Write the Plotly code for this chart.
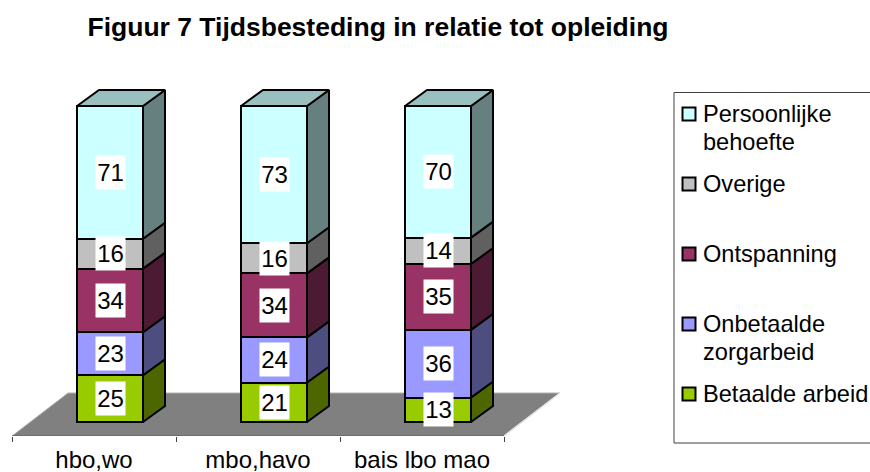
import plotly.graph_objects as go

# ---- data ----
categories = ["hbo,wo", "mbo,havo", "bais lbo mao"]
betaalde = [25, 21, 13]
onbetaalde = [23, 24, 36]
ontspanning = [34, 34, 35]
overige = [16, 16, 14]
persoonlijk = [71, 73, 70]
series_names = ["Betaalde arbeid", "Onbetaalde zorgarbeid", "Ontspanning", "Overige", "Persoonlijke behoefte"]
series_values = [betaalde, onbetaalde, ontspanning, overige, persoonlijk]
front_colors = ["#99CC00", "#9999FF", "#993366", "#C0C0C0", "#CCFFFF"]
side_colors = ["#4D6600", "#4D4D80", "#4D1A33", "#606060", "#668080"]
top_color = "#99BFBF"
legend_lines = [["Persoonlijke", "behoefte"], ["Overige"], ["Ontspanning"], ["Onbetaalde", "zorgarbeid"], ["Betaalde arbeid"]]
legend_colors = ["#CCFFFF", "#C0C0C0", "#993366", "#9999FF", "#99CC00"]
legend_y = [114, 184, 254, 324, 394]

# ---- layout geometry ----
W, H = 870, 472
L, R, T, B = 12, 560, 85, 436
Y0 = 422
PX_X = 164.0
PX_Y = 3.16
DX, DY = 22 / PX_X, 16 / PX_Y
BW = 66 / PX_X
OFF = 16 / PX_X
FLOOR_DX, FLOOR_DY = 56 / PX_X, 43 / PX_Y
xr = [-0.5, 2.5 + FLOOR_DX]
yr = [(Y0 - B) / PX_Y, (Y0 - T) / PX_Y]
FONT = "Liberation Sans, Arial, sans-serif"
LAB = 24
px = lambda v: (v - L) / (R - L)
py = lambda v: (B - v) / (B - T)

fig = go.Figure()
xs = list(range(len(categories)))
bar_x = [i + OFF for i in xs]

for name, vals, col in zip(series_names, series_values, front_colors):
    fig.add_bar(x=bar_x, y=vals, name=name, width=BW, marker=dict(color=col, line=dict(color="black", width=2)),
                showlegend=False, hoverinfo="skip")

totals = [sum(s[i] for s in series_values) for i in xs]
annots = []
for i in xs:
    base = 0.0
    c = bar_x[i]
    for s, vals in enumerate(series_values):
        h = vals[i] / totals[i] * 100
        xr_ = c + BW / 2
        fig.add_scatter(x=[xr_, xr_ + DX, xr_ + DX, xr_, xr_], y=[base, base + DY, base + h + DY, base + h, base],
                        mode="lines", fill="toself", fillcolor=side_colors[s], line=dict(color="black", width=2),
                        showlegend=False, hoverinfo="skip")
        annots.append(dict(x=c, y=base + h / 2, text=str(vals[i]), showarrow=False, bgcolor="white", width=27, height=31,
                           font=dict(family=FONT, size=LAB, color="black"), xref="x", yref="y"))
        base += h
    xl = c - BW / 2
    fig.add_scatter(x=[xl, xl + DX, xl + BW + DX, xl + BW, xl], y=[base, base + DY, base + DY, base, base],
                    mode="lines", fill="toself", fillcolor=top_color, line=dict(color="black", width=2),
                    showlegend=False, hoverinfo="skip")

# floor + its edges
shapes = [
    dict(type="path", xref="x", yref="y", layer="below", fillcolor="#808080", line=dict(color="#B0B0B0", width=1),
         path=f"M -0.5 {yr[0]} L 2.5 {yr[0]} L {2.5 + FLOOR_DX} {yr[0] + FLOOR_DY} L {-0.5 + FLOOR_DX} {yr[0] + FLOOR_DY} Z"),
    dict(type="line", xref="x", yref="y", layer="below", x0=2.5, x1=2.5 + FLOOR_DX, y0=yr[0], y1=yr[0] + FLOOR_DY,
         line=dict(color="#E8E8E8", width=1.5)),
    dict(type="line", xref="x", yref="y", layer="below", x0=-0.5, x1=2.5, y0=yr[0], y1=yr[0],
         line=dict(color="#404040", width=1)),
]

# legend box
shapes.append(dict(type="rect", xref="paper", yref="paper", x0=px(674), x1=px(885), y0=py(92.5), y1=py(443),
                   line=dict(color="#404040", width=1), fillcolor="rgba(0,0,0,0)"))
for lines, col, yc in zip(legend_lines, legend_colors, legend_y):
    shapes.append(dict(type="rect", xref="paper", yref="paper", x0=px(682.5), x1=px(695.5), y0=py(yc - 6.5), y1=py(yc + 6.5),
                       fillcolor=col, line=dict(color="black", width=2)))
    for k, t in enumerate(lines):
        annots.append(dict(xref="paper", yref="paper", x=px(700.5), y=py(yc + k * 28), text=t, showarrow=False, xanchor="left",
                           yanchor="middle", font=dict(family=FONT, size=23.6, color="black")))

fig.update_layout(
    width=W, height=H, barmode="stack", barnorm="percent", paper_bgcolor="white", plot_bgcolor="rgba(0,0,0,0)",
    margin=dict(l=L, r=W - R, t=T, b=H - B, pad=0), showlegend=False, autosize=False,
    title=dict(text="<b>Figuur 7 Tijdsbesteding in relatie tot opleiding</b>", xref="container", yref="container",
               x=378 / W, y=1 - 27 / H, xanchor="center", yanchor="middle", font=dict(family=FONT, size=26.5, color="black")),
    xaxis=dict(range=xr, tickmode="array", tickvals=xs, ticktext=categories, ticks="", showgrid=False, zeroline=False,
               showline=False, automargin=False, tickfont=dict(family=FONT, size=LAB, color="black"), ticklabelstandoff=7,
               minor=dict(tickmode="array", tickvals=[-0.5, 0.5, 1.5, 2.5], ticks="outside", ticklen=5, tickcolor="#404040", tickwidth=1, showgrid=False)),
    yaxis=dict(range=yr, visible=False, showgrid=False, zeroline=False, automargin=False),
    shapes=shapes, annotations=annots,
)
fig.write_html("out.html", config={"displayModeBar": False},
               post_script="document.body.style.margin='0';document.body.style.overflow='hidden';")
